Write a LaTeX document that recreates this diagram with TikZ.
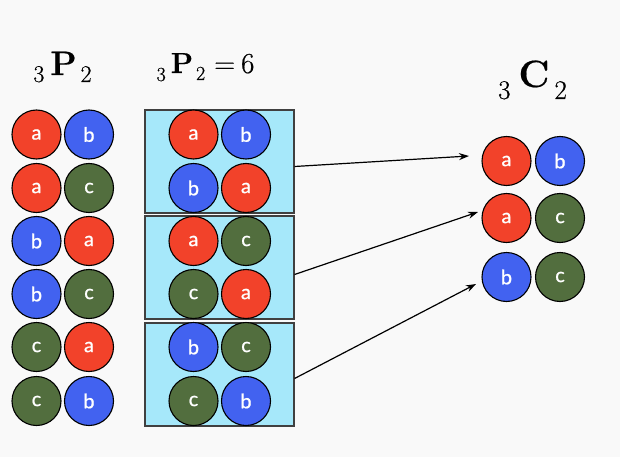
\documentclass[tikz,border=0pt]{standalone}
\usepackage{fontspec}
\newfontfamily\circfont[FakeBold=0.8]{Lato}
\newfontfamily\titlefont[FakeBold=0.5]{Latin Modern Roman}
\usetikzlibrary{arrows.meta}
\definecolor{cred}{RGB}{242,66,42}
\definecolor{cblue}{RGB}{66,98,240}
\definecolor{cgreen}{RGB}{82,110,62}
\definecolor{ccyan}{RGB}{166,232,250}
\definecolor{bgc}{RGB}{249,249,249}
\newcommand{\lowsub}[3]{\raisebox{-#2}{\fontsize{#1}{#1}\selectfont #3}}
\begin{document}
\begin{tikzpicture}[x=1pt,y=-1pt,
  ball/.style={circle, draw=black, line width=1.1pt, minimum size=49pt, inner sep=0pt,
    text=white, font=\circfont\fontsize{20}{20}\selectfont},
  ra/.style={ball, fill=cred},
  rb/.style={ball, fill=cblue},
  rc/.style={ball, fill=cgreen},
  pairbox/.style={rectangle, draw=black!75, line width=1.1pt, fill=ccyan,
    minimum width=149pt, minimum height=103pt, inner sep=0pt},
  conn/.style={line width=1.2pt, -{Stealth[length=10pt,width=7pt]}},
  title/.style={anchor=base, inner sep=0pt}]
\fill[bgc] (0,0) rectangle (620,457);
\useasboundingbox (0,0) rectangle (620,457);
% titles
\node[title, font=\titlefont\fontsize{34}{36}\selectfont] (t1) at (62.5,75)
  {\lowsub{24}{7pt}{3}\hspace{6pt}\textbf{P}\hspace{4pt}\lowsub{24}{7pt}{2}};
\node[title, font=\titlefont\fontsize{29}{32}\selectfont] (t2) at (205.5,73)
  {\lowsub{20}{8pt}{3}\hspace{5pt}\textbf{P}\hspace{3pt}\lowsub{20}{7pt}{2}\hspace{9pt}=\hspace{6pt}6};
\node[title, font=\titlefont\fontsize{38}{42}\selectfont] (t3) at (532.5,87)
  {\lowsub{27}{12pt}{3}\hspace{8pt}\textbf{C}\hspace{5pt}\lowsub{27}{12pt}{2}};
% left column
\node[ra] (l1a) at (36.5,134.5) {a}; \node[rb] (l1b) at (89,134.5) {b};
\node[ra] (l2a) at (36.5,188) {a};   \node[rc] (l2b) at (89,188) {c};
\node[rb] (l3a) at (36.5,241) {b};   \node[ra] (l3b) at (89,241) {a};
\node[rb] (l4a) at (36.5,294) {b};   \node[rc] (l4b) at (89,294) {c};
\node[rc] (l5a) at (36.5,347) {c};   \node[ra] (l5b) at (89,347) {a};
\node[rc] (l6a) at (36.5,401) {c};   \node[rb] (l6b) at (89,401) {b};
% boxes
\node[pairbox] (box1) at (219.5,161.5) {};
\node[pairbox] (box2) at (219.5,267.5) {};
\node[pairbox] (box3) at (219.5,374.5) {};
\node[ra] (m1a) at (193.5,134.5) {a}; \node[rb] (m1b) at (246,134.5) {b};
\node[rb] (m2a) at (193.5,188) {b};   \node[ra] (m2b) at (246,188) {a};
\node[ra] (m3a) at (193.5,241) {a};   \node[rc] (m3b) at (246,241) {c};
\node[rc] (m4a) at (193.5,294) {c};   \node[ra] (m4b) at (246,294) {a};
\node[rb] (m5a) at (193.5,347) {b};   \node[rc] (m5b) at (246,347) {c};
\node[rc] (m6a) at (193.5,401) {c};   \node[rb] (m6b) at (246,401) {b};
% right column
\node[ra] (r1a) at (506.5,161) {a}; \node[rb] (r1b) at (560,161) {b};
\node[ra] (r2a) at (506.5,218) {a}; \node[rc] (r2b) at (560,218) {c};
\node[rb] (r3a) at (506.5,277) {b}; \node[rc] (r3b) at (560,277) {c};
% arrow ends
\coordinate (e1) at (469,156);
\coordinate (e2) at (478,212);
\coordinate (e3) at (476,284);
\draw[conn] ([yshift=-5pt]box1.east) -- (e1);
\draw[conn] ([yshift=-7pt]box2.east) -- (e2);
\draw[conn] ([yshift=-4pt]box3.east) -- (e3);
\end{tikzpicture}
\end{document}
